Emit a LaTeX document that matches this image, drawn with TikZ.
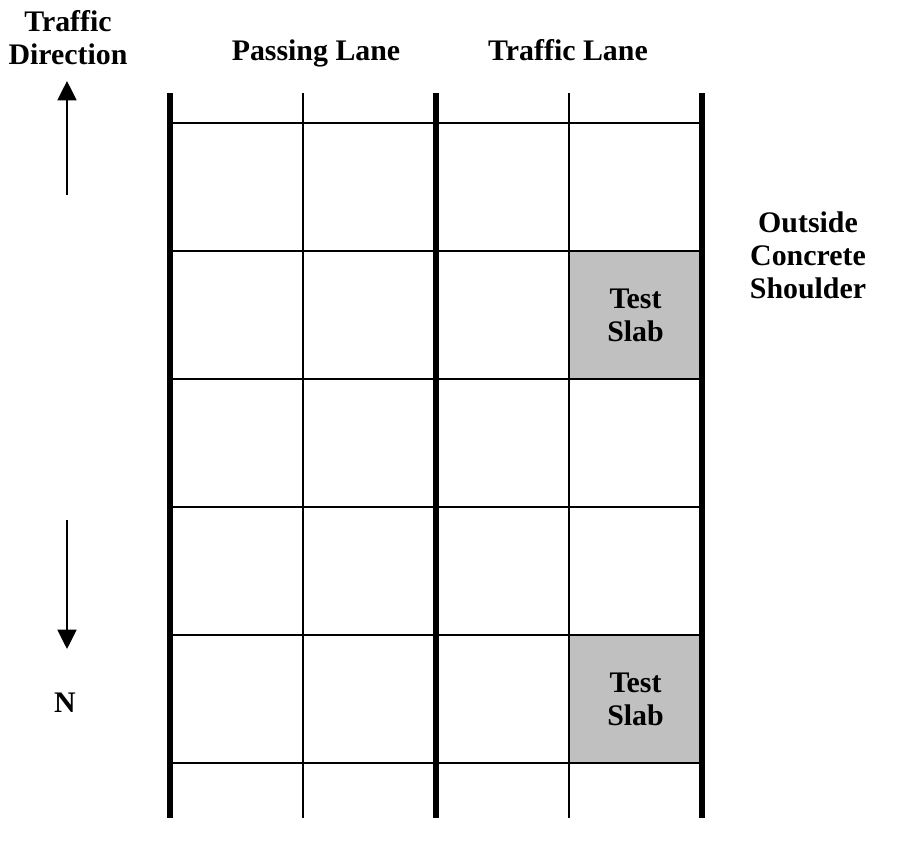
\documentclass[tikz,border=0pt]{standalone}
\usepackage{fontspec}
\setmainfont{Liberation Serif}
\usepackage{xcolor}
\usetikzlibrary{arrows.meta}
\usetikzlibrary{math}
\definecolor{slabgray}{RGB}{192,192,192}

\begin{document}
\begin{tikzpicture}[x=0.02cm, y=-0.02cm, font=\fontsize{17}{18.8}\selectfont\bfseries]

\tikzmath{
\xa = 170; %left edge of pavement
\w = 133; %slab width
\h = 128; %slab length
\yt = 93; %top of lane lines
\yb = 818; %bottom of lane lines
\yj = 123; %first transverse joint
\xr = \xa+4*\w;
\xarr = 67; %traffic arrows
}

\useasboundingbox (0,0) rectangle (919,846);

%test slabs:
\fill[slabgray] (\xa+3*\w,\yj+\h) rectangle (\xr,\yj+2*\h);
\fill[slabgray] (\xa+3*\w,\yj+4*\h) rectangle (\xr,\yj+5*\h);

%transverse joints:
\draw[line width=1.1pt] (\xa,\yj) -- (\xr,\yj);
\draw[line width=1.1pt] (\xa,\yj+\h) -- (\xr,\yj+\h);
\draw[line width=1.1pt] (\xa,\yj+2*\h) -- (\xr,\yj+2*\h);
\draw[line width=1.1pt] (\xa,\yj+3*\h) -- (\xr,\yj+3*\h);
\draw[line width=1.1pt] (\xa,\yj+4*\h) -- (\xr,\yj+4*\h);
\draw[line width=1.1pt] (\xa,\yj+5*\h) -- (\xr,\yj+5*\h);
%longitudinal joints:
\draw[line width=1.1pt] (\xa+\w,\yt) -- (\xa+\w,\yb);
\draw[line width=1.1pt] (\xa+3*\w,\yt) -- (\xa+3*\w,\yb);
%lane edges:
\draw[line width=2.9pt] (\xa,\yt) -- (\xa,\yb);
\draw[line width=2.9pt] (\xa+2*\w,\yt) -- (\xa+2*\w,\yb);
\draw[line width=2.9pt] (\xr,\yt) -- (\xr,\yb);

%labels
\node[align=center] (dir) at (68,38) {Traffic\\Direction};
\node[anchor=base] (passing) at (316,60) {Passing Lane};
\node[anchor=base] (traffic) at (568,60) {Traffic Lane};
\node[align=center] (shoulder) at (808,255) {Outside\\Concrete\\Shoulder};
\node[align=center] (slabA) at (\xa+3.5*\w,\yj+1.5*\h) {Test\\Slab};
\node[align=center] (slabB) at (\xa+3.5*\w,\yj+4.5*\h) {Test\\Slab};
\node (north) at (65,703) {N};

%direction arrows
\coordinate (upS) at (\xarr,195);
\coordinate (upE) at (\xarr,81);
\coordinate (dnS) at (\xarr,520);
\coordinate (dnE) at (\xarr,649);
\draw[line width=1.1pt,-{Triangle[width=10.8pt,length=11pt]}] (upS) -- (upE);
\draw[line width=1.1pt,-{Triangle[width=10.8pt,length=11pt]}] (dnS) -- (dnE);

\end{tikzpicture}
\end{document}
